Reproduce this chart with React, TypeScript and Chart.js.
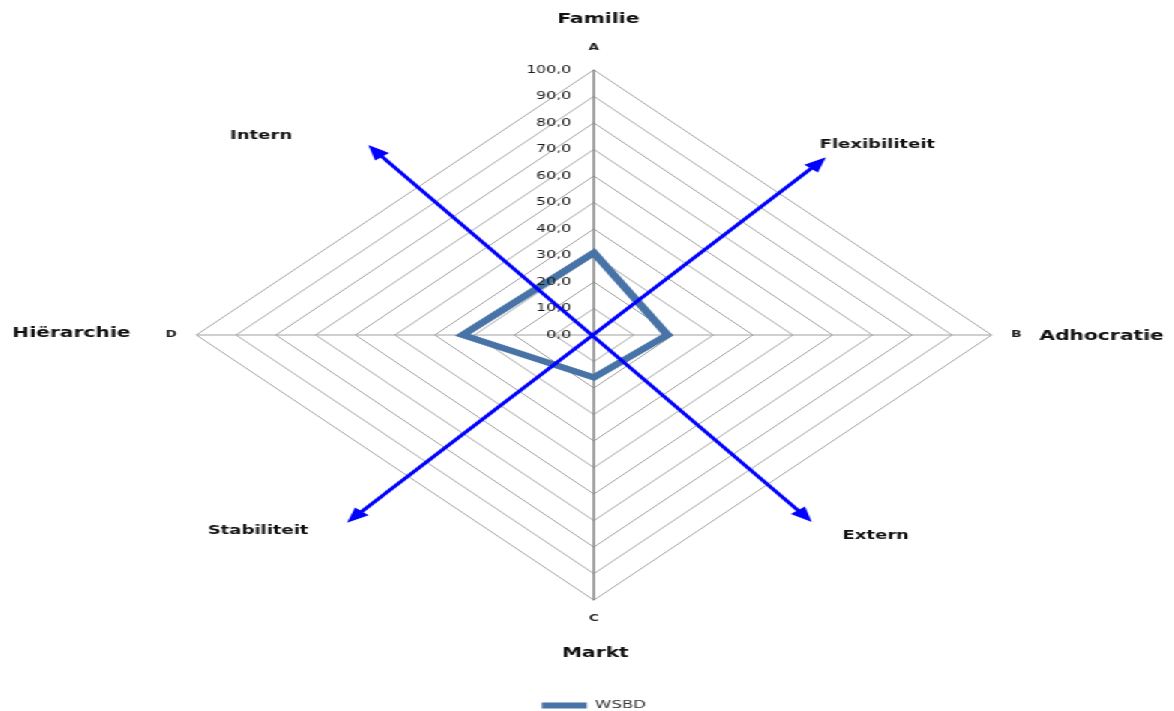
import React, { useEffect, useRef } from 'react';
import { Chart, registerables } from 'chart.js';

Chart.register(...registerables);

// ---- data ----
const CATEGORIES = ['A', 'B', 'C', 'D'];
const SERIES_NAME = 'WSBD';
const WSBD_VALUES = [31, 18.5, 16, 33];
const TICK_VALUES = [0, 10, 20, 30, 40, 50, 60, 70, 80, 90, 100];
const TICK_LABELS = ['0,0', '10,0', '20,0', '30,0', '40,0', '50,0', '60,0', '70,0', '80,0', '90,0', '100,0'];
const QUADRANT_LABELS = ['Familie', 'Adhocratie', 'Markt', 'Hiërarchie'];
const DIRECTION_LABELS = ['Intern', 'Flexibiliteit', 'Stabiliteit', 'Extern'];

// ---- styling / layout (not data) ----
const STRETCH_X = 1.5;
const CANVAS_W = 783;
const CANVAS_H = 721;
const LINE_COLOR = '#4773A6';
const ARROW_COLOR = '#0000FF';
const FONT = '"DejaVu Sans", Verdana, sans-serif';

// offsets from the radar centre (unstretched px)
const QUADRANT_POS = [
  { dx: 3, dy: -316, align: 'center' },
  { dx: 297, dy: 1, align: 'left' },
  { dx: 1, dy: 318, align: 'center' },
  { dx: -309, dy: -2, align: 'right' },
];
const DIRECTION_POS = [
  { dx: -222, dy: -199 },
  { dx: 189, dy: -190 },
  { dx: -224, dy: 196 },
  { dx: 188, dy: 201 },
];
const ARROWS = [
  { from: [-150.5, -190], to: [145.3, 187] },
  { from: [-164.7, 187.7], to: [154.7, -177.7] },
];

function drawArrowHead(ctx: CanvasRenderingContext2D, tipX: number, tipY: number, ang: number) {
  const L = 15;
  const hw = 6;
  const bx = tipX - Math.cos(ang) * L;
  const by = tipY - Math.sin(ang) * L;
  ctx.beginPath();
  ctx.moveTo(tipX, tipY);
  ctx.lineTo(bx + Math.cos(ang + Math.PI / 2) * hw, by + Math.sin(ang + Math.PI / 2) * hw);
  ctx.lineTo(bx - Math.cos(ang + Math.PI / 2) * hw, by - Math.sin(ang + Math.PI / 2) * hw);
  ctx.closePath();
  ctx.fill();
}

const overlayPlugin = {
  id: 'overlay',
  afterDatasetsDraw(chart: any) {
    const scale = chart.scales.r;
    const ctx: CanvasRenderingContext2D = chart.ctx;
    const cx = scale.xCenter;
    const cy = scale.yCenter;
    ctx.save();

    // value tick labels left of the vertical axis
    ctx.font = `10.5px ${FONT}`;
    ctx.fillStyle = '#1a1a1a';
    ctx.textAlign = 'right';
    ctx.textBaseline = 'middle';
    TICK_VALUES.forEach((v, i) => {
      const p = scale.getPointPositionForValue(0, v);
      ctx.fillText(TICK_LABELS[i], p.x - 15, p.y);
    });

    // quadrant names
    ctx.fillStyle = '#111111';
    ctx.font = `bold 13.5px ${FONT}`;
    QUADRANT_LABELS.forEach((t, i) => {
      const pos = QUADRANT_POS[i];
      ctx.textAlign = pos.align as CanvasTextAlign;
      ctx.fillText(t, cx + pos.dx, cy + pos.dy);
    });
    ctx.font = `bold 12px ${FONT}`;
    ctx.textAlign = 'center';
    DIRECTION_LABELS.forEach((t, i) => {
      const pos = DIRECTION_POS[i];
      ctx.fillText(t, cx + pos.dx, cy + pos.dy);
    });

    // arrows
    ctx.strokeStyle = ARROW_COLOR;
    ctx.fillStyle = ARROW_COLOR;
    ctx.lineWidth = 3;
    ARROWS.forEach((a) => {
      const x1 = cx + a.from[0];
      const y1 = cy + a.from[1];
      const x2 = cx + a.to[0];
      const y2 = cy + a.to[1];
      const ang = Math.atan2(y2 - y1, x2 - x1);
      const inset = 12;
      ctx.beginPath();
      ctx.moveTo(x1 + Math.cos(ang) * inset, y1 + Math.sin(ang) * inset);
      ctx.lineTo(x2 - Math.cos(ang) * inset, y2 - Math.sin(ang) * inset);
      ctx.stroke();
      drawArrowHead(ctx, x2, y2, ang);
      drawArrowHead(ctx, x1, y1, ang + Math.PI);
    });

    ctx.restore();
  },
};

export default function App() {
  const canvasRef = useRef<HTMLCanvasElement | null>(null);

  useEffect(() => {
    if (!canvasRef.current) return;
    Chart.defaults.font.family = FONT;
    const chart = new Chart(canvasRef.current, {
      type: 'radar',
      data: {
        labels: CATEGORIES,
        datasets: [
          {
            label: SERIES_NAME,
            data: WSBD_VALUES,
            borderColor: LINE_COLOR,
            backgroundColor: LINE_COLOR,
            fill: false,
            borderWidth: 6,
            pointRadius: 0,
            pointHoverRadius: 0,
            tension: 0,
          },
        ],
      },
      options: {
        responsive: true,
        maintainAspectRatio: false,
        animation: false,
        layout: { padding: { left: 9, right: 0, top: 40, bottom: 0 } },
        plugins: {
          legend: {
            display: true,
            position: 'bottom',
            labels: {
              usePointStyle: true,
              pointStyle: 'line',
              pointStyleWidth: 30,
              padding: 73,
              color: '#333333',
              font: { size: 11, family: FONT },
            },
          },
          tooltip: { enabled: false },
        },
        scales: {
          r: {
            min: 0,
            max: 100,
            ticks: { display: false, stepSize: 10 },
            grid: { color: '#A0A0A0', lineWidth: 1 },
            angleLines: {
              color: (c: any) => (c.index % 2 === 0 ? '#858585' : '#A0A0A0'),
              lineWidth: (c: any) => (c.index % 2 === 0 ? 1.5 : 1),
            },
            pointLabels: {
              font: { size: 9, family: FONT, weight: 'bold' },
              color: '#222222',
              padding: (c: any) => (c.index === 0 ? 17 : 13),
            },
          },
        },
      },
      plugins: [overlayPlugin],
    });
    return () => chart.destroy();
  }, []);

  return (
    <div
      style={{
        position: 'fixed',
        left: 0,
        top: 0,
        width: CANVAS_W,
        height: CANVAS_H,
        transform: `scaleX(${STRETCH_X})`,
        transformOrigin: '0 0',
        background: '#ffffff',
      }}
    >
      <canvas ref={canvasRef} />
    </div>
  );
}
